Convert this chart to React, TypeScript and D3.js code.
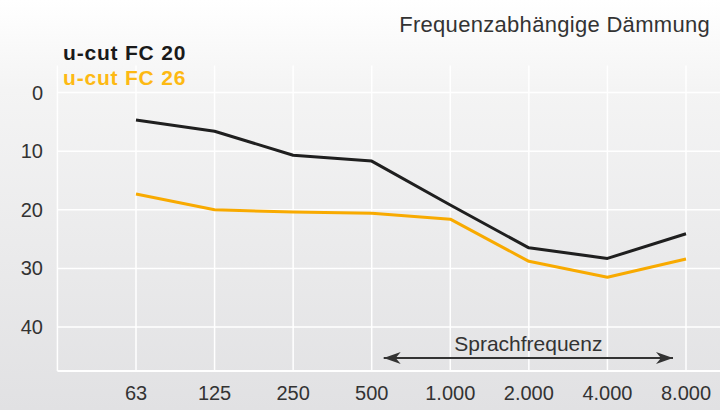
import React, { useEffect, useRef } from 'react';
import * as d3 from 'd3';

const frequencies = ['63', '125', '250', '500', '1.000', '2.000', '4.000', '8.000'];
const fc20Values = [4.7, 6.6, 10.7, 11.7, 19.2, 26.5, 28.3, 24.1];
const fc26Values = [17.3, 20.0, 20.4, 20.6, 21.6, 28.8, 31.5, 28.4];
const yTicks = [0, 10, 20, 30, 40];

const series = [
    { name: 'u-cut FC 20', values: fc20Values, line: '#1f1f1f', label: '#1a1a1a' },
    { name: 'u-cut FC 26', values: fc26Values, line: '#f8aa00', label: '#fdb913' },
];

const App: React.FC = () => {
    const svgRef = useRef<SVGSVGElement>(null);

    useEffect(() => {
        if (!svgRef.current) return;
        const width = 720;
        const height = 410;
        const font = '"Liberation Sans", Arial, Helvetica, sans-serif';

        const svg = d3.select(svgRef.current);
        svg.selectAll('*').remove();

        const defs = svg.append('defs');
        const grad = defs.append('linearGradient')
            .attr('id', 'bg')
            .attr('x1', 0).attr('y1', 0)
            .attr('x2', 0).attr('y2', 1);
        grad.append('stop').attr('offset', '0%').attr('stop-color', '#ffffff');
        grad.append('stop').attr('offset', '22%').attr('stop-color', '#f4f4f4');
        grad.append('stop').attr('offset', '100%').attr('stop-color', '#e1e1e3');

        const arrowHead = 'M0,0 L-17,-6 L-12,0 L-17,6 Z';
        defs.append('marker')
            .attr('id', 'arrow')
            .attr('viewBox', '-18 -7 20 14')
            .attr('refX', 0).attr('refY', 0)
            .attr('markerWidth', 20).attr('markerHeight', 14)
            .attr('markerUnits', 'userSpaceOnUse')
            .attr('orient', 'auto-start-reverse')
            .append('path')
            .attr('d', arrowHead)
            .attr('fill', '#333');

        svg.append('rect')
            .attr('x', 0).attr('y', 0)
            .attr('width', width).attr('height', height)
            .attr('fill', 'url(#bg)');

        const x = d3.scalePoint<string>().domain(frequencies).range([136, 686]);
        const y = d3.scaleLinear().domain([0, 40]).range([92.5, 327]);
        const step = x.step();
        const left = (x(frequencies[0]) as number) - step;
        const gridTop = y(-4.6);
        const gridBottom = y(47.5);

        // grid
        const grid = svg.append('g').attr('stroke', '#ffffff').attr('stroke-width', 1.5);
        [left, ...frequencies.map((f) => x(f) as number)].forEach((gx) => {
            grid.append('line')
                .attr('x1', gx).attr('x2', gx)
                .attr('y1', gridTop).attr('y2', gridBottom);
        });
        yTicks.forEach((t) => {
            grid.append('line')
                .attr('x1', left).attr('x2', width)
                .attr('y1', y(t)).attr('y2', y(t));
        });
        grid.append('line')
            .attr('x1', left).attr('x2', width)
            .attr('y1', gridBottom).attr('y2', gridBottom)
            .attr('stroke-width', 2);

        // y labels
        svg.append('g')
            .selectAll('text')
            .data(yTicks)
            .enter()
            .append('text')
            .attr('x', 43)
            .attr('y', (d) => y(d) + 7)
            .attr('text-anchor', 'end')
            .style('font-family', font)
            .style('font-size', '20px')
            .style('fill', '#333')
            .text((d) => String(d));

        // x labels
        svg.append('g')
            .selectAll('text')
            .data(frequencies)
            .enter()
            .append('text')
            .attr('x', (d) => x(d) as number)
            .attr('y', 400)
            .attr('text-anchor', 'middle')
            .style('font-family', font)
            .style('font-size', '20px')
            .style('fill', '#333')
            .text((d) => d);

        // lines
        const line = d3.line<number>()
            .x((_d, i) => x(frequencies[i]) as number)
            .y((d) => y(d));
        series.forEach((s) => {
            svg.append('path')
                .datum(s.values)
                .attr('d', line)
                .attr('fill', 'none')
                .attr('stroke', s.line)
                .attr('stroke-width', 3)
                .attr('stroke-linejoin', 'round');
        });

        // legend
        series.forEach((s, i) => {
            svg.append('text')
                .attr('x', 63)
                .attr('y', 60 + i * 25)
                .style('font-family', font)
                .style('font-size', '21px')
                .style('font-weight', '700')
                .style('letter-spacing', '0.8px')
                .style('fill', s.label)
                .text(s.name);
        });

        // title
        svg.append('text')
            .attr('x', 710)
            .attr('y', 32)
            .attr('text-anchor', 'end')
            .style('font-family', font)
            .style('font-size', '22px')
            .style('letter-spacing', '0.3px')
            .style('fill', '#333')
            .text('Frequenzabhängige Dämmung');

        // speech frequency range
        const arrowStart = (x('500') as number) + 10;
        const arrowEnd = (x('8.000') as number) - 11;
        const arrowY = 358;
        svg.append('line')
            .attr('x1', arrowStart + 2).attr('x2', arrowEnd - 2)
            .attr('y1', arrowY).attr('y2', arrowY)
            .attr('stroke', '#333')
            .attr('stroke-width', 2)
            .attr('marker-start', 'url(#arrow)')
            .attr('marker-end', 'url(#arrow)');
        svg.append('text')
            .attr('x', (arrowStart + arrowEnd) / 2)
            .attr('y', 351)
            .attr('text-anchor', 'middle')
            .style('font-family', font)
            .style('font-size', '21px')
            .style('fill', '#333')
            .text('Sprachfrequenz');
    }, []);

    return (
        <svg
            ref={svgRef}
            width={720}
            height={410}
            style={{ position: 'absolute', left: 0, top: 0, display: 'block' }}
        />
    );
};

export default App;
